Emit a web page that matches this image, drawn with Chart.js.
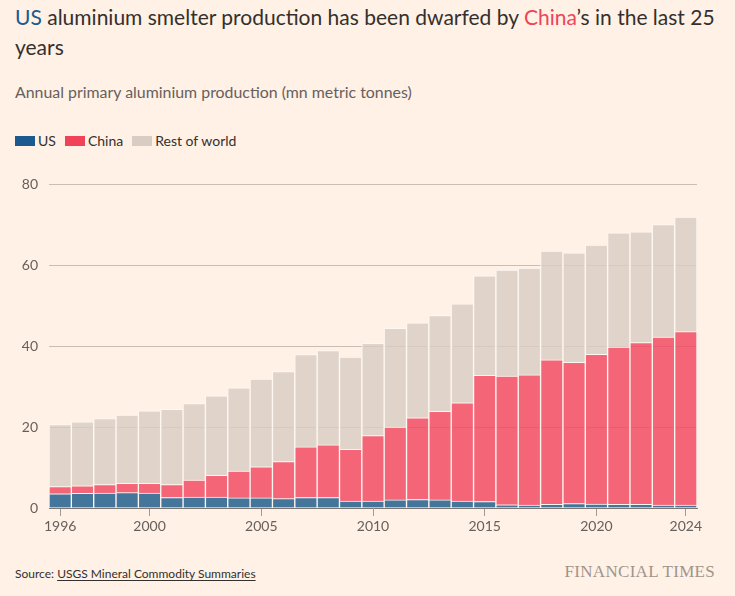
<!DOCTYPE html>
<html>
<head>
    <title>US vs China aluminium</title>
    <style>
        html, body {
            margin: 0;
            padding: 0;
            background: #fff1e5;
        }
        body {
            width: 735px;
            height: 596px;
            position: relative;
            overflow: hidden;
            font-family: Lato, "Open Sans", sans-serif;
            color: #33302e;
        }
        #title {
            position: absolute;
            left: 15px;
            top: 2px;
            font-size: 21px;
            line-height: 30px;
            white-space: nowrap;
        }
        #title .us { color: #1a5a8e; }
        #title .cn { color: #f0435a; }
        #subtitle {
            position: absolute;
            left: 15px;
            top: 82px;
            font-size: 15.9px;
            color: #66605c;
        }
        #legend {
            position: absolute;
            left: 15px;
            top: 132px;
            font-size: 14px;
            color: #33302e;
            display: flex;
            align-items: center;
        }
        #legend span.sw {
            display: inline-block;
            width: 20px;
            height: 10px;
            margin-right: 3px;
        }
        #legend span.item {
            display: flex;
            align-items: center;
            margin-right: 9px;
        }
        #wrap {
            position: absolute;
            left: 0;
            top: 165px;
            width: 735px;
            height: 380px;
        }
        #source {
            position: absolute;
            left: 15px;
            top: 566px;
            font-size: 12px;
            color: #33302e;
        }
        #source u { text-underline-offset: 2px; }
        #ft {
            position: absolute;
            right: 20px;
            top: 562px;
            font-family: "Liberation Serif", "DejaVu Serif", serif;
            font-size: 17px;
            color: #9e948c;
            letter-spacing: 0.3px;
        }
    </style>
    <script src="https://cdn.jsdelivr.net/npm/chart.js"></script>
</head>
<body>
    <div id="title"><span class="us">US</span> aluminium smelter production has been dwarfed by <span class="cn">China</span>’s in the last 25<br>years</div>
    <div id="subtitle">Annual primary aluminium production (mn metric tonnes)</div>
    <div id="legend">
        <span class="item"><span class="sw" style="background:#1a5a8e"></span>US</span>
        <span class="item"><span class="sw" style="background:#f0435a"></span>China</span>
        <span class="item"><span class="sw" style="background:#d9ccc3"></span>Rest of world</span>
    </div>
    <div id="wrap"><canvas id="chart"></canvas></div>
    <div id="source">Source: <u>USGS Mineral Commodity Summaries</u></div>
    <div id="ft">FINANCIAL TIMES</div>

    <script>
        var years = ['1996', '1997', '1998', '1999', '2000', '2001', '2002', '2003', '2004', '2005',
                     '2006', '2007', '2008', '2009', '2010', '2011', '2012', '2013', '2014', '2015',
                     '2016', '2017', '2018', '2019', '2020', '2021', '2022', '2023', '2024'];
        var shownYears = ['1996', '2000', '2005', '2010', '2015', '2020', '2024'];

        var usValues = [3.5, 3.6, 3.7, 3.8, 3.7, 2.6, 2.7, 2.7, 2.5, 2.5,
                        2.3, 2.6, 2.6, 1.7, 1.7, 2.0, 2.1, 2.0, 1.7, 1.6,
                        0.8, 0.7, 0.9, 1.1, 1.0, 0.9, 0.9, 0.75, 0.7];
        var chinaValues = [1.8, 1.9, 2.1, 2.3, 2.4, 3.2, 4.2, 5.4, 6.6, 7.7,
                           9.2, 12.5, 13.0, 12.8, 16.2, 18.0, 20.2, 21.9, 24.3, 31.2,
                           31.8, 32.2, 35.7, 34.9, 37.0, 38.9, 40.0, 41.5, 42.9];
        var restValues = [15.3, 15.8, 16.3, 16.9, 17.9, 18.6, 18.9, 19.6, 20.6, 21.7,
                          22.2, 22.8, 23.3, 22.8, 22.8, 24.4, 23.5, 23.7, 24.5, 24.6,
                          26.2, 26.4, 26.9, 27.1, 27.0, 28.2, 27.4, 27.8, 28.3];
        var yTicks = [0, 20, 40, 60, 80];

        var barStyle = {
            borderWidth: 1,
            borderColor: '#fff8f2',
            barPercentage: 1,
            categoryPercentage: 1
        };

        var ctx = document.getElementById('chart').getContext('2d');
        var chart = new Chart(ctx, {
            type: 'bar',
            data: {
                labels: years,
                datasets: [
                    Object.assign({ label: 'US', data: usValues, backgroundColor: 'rgba(21,86,136,0.8)' }, barStyle),
                    Object.assign({ label: 'China', data: chinaValues, backgroundColor: 'rgba(241,66,91,0.8)' }, barStyle),
                    Object.assign({ label: 'Rest of world', data: restValues, backgroundColor: 'rgba(216,204,195,0.8)' }, barStyle)
                ]
            },
            options: {
                responsive: true,
                maintainAspectRatio: false,
                animation: false,
                layout: { padding: { top: 0, right: 38, bottom: 0, left: 0 } },
                plugins: {
                    legend: { display: false },
                    tooltip: { enabled: false }
                },
                scales: {
                    x: {
                        stacked: true,
                        afterFit: function(scale) { scale.height = 37; },
                        grid: {
                            offset: false,
                            drawOnChartArea: false,
                            drawTicks: true,
                            tickLength: 8,
                            tickColor: '#a39a93'
                        },
                        border: { display: true, color: '#7d7670', width: 1 },
                        ticks: {
                            autoSkip: false,
                            maxRotation: 0,
                            padding: 2,
                            color: '#66605c',
                            font: { family: 'Lato', size: 14 },
                            callback: function(value) {
                                var lab = this.getLabelForValue(value);
                                return shownYears.indexOf(lab) >= 0 ? lab : null;
                            }
                        }
                    },
                    y: {
                        stacked: true,
                        min: 0,
                        max: 80,
                        afterFit: function(scale) { scale.width = 49; },
                        afterBuildTicks: function(scale) {
                            scale.ticks = yTicks.map(function(v) { return { value: v }; });
                        },
                        grid: {
                            drawTicks: false,
                            color: function(c) {
                                return c.tick && c.tick.value === 0 ? 'rgba(0,0,0,0)' : '#cbbdb2';
                            }
                        },
                        border: { display: false },
                        ticks: {
                            padding: 11,
                            color: '#66605c',
                            font: { family: 'Lato', size: 14 }
                        }
                    }
                }
            }
        });
    </script>
</body>
</html>
